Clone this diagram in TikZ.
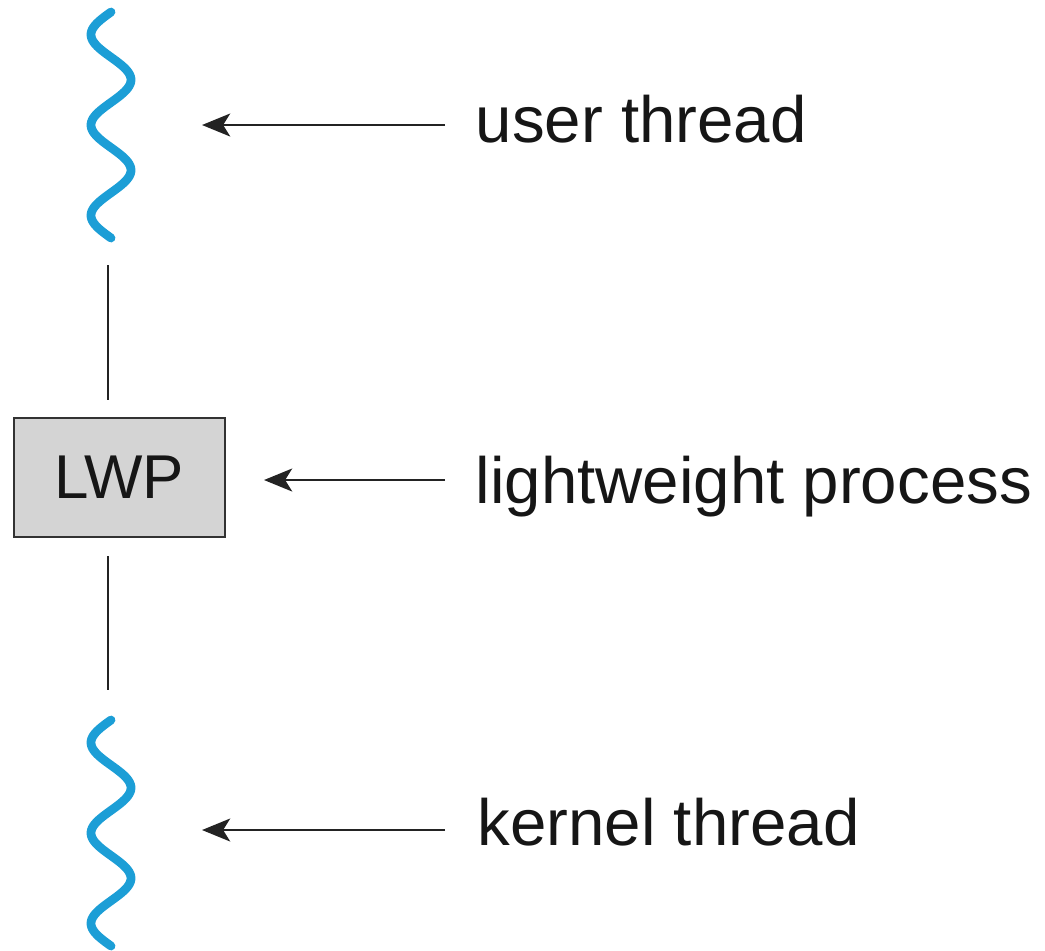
\documentclass[tikz,border=0pt]{standalone}
\usepackage{fontspec}
\setmainfont{Liberation Sans}
\usetikzlibrary{arrows.meta}
\definecolor{wavblue}{RGB}{28,158,214}
\definecolor{boxgray}{RGB}{212,212,212}
\definecolor{boxline}{RGB}{50,50,50}
\definecolor{inkgray}{RGB}{35,35,35}
\definecolor{textink}{RGB}{22,22,22}
\tikzset{
  wave/.style={draw=wavblue, line width=2.5pt, line cap=round},
  link/.style={draw=inkgray, line width=0.65pt},
  pointer/.style={draw=inkgray, line width=0.8pt, -{Stealth[length=8pt, width=6.5pt, inset=2pt]}},
  label/.style={anchor=base west, inner sep=0pt, font=\fontsize{18.6}{22}\selectfont, text=textink},
  lwpbox/.style={draw=boxline, fill=boxgray, line width=0.7pt, minimum width=2.11cm, minimum height=1.19cm, inner sep=0pt, font=\fontsize{17.6}{21}\selectfont, text=textink}
}
\begin{document}
\begin{tikzpicture}[x=0.01cm, y=-0.01cm]
\useasboundingbox (0,0) rectangle (1045,950);
% waves
\draw[wave] plot[domain=0:226, samples=120, smooth] ({111-20*sin(\x/45.2*180)}, {12+\x});
\draw[wave] plot[domain=0:226, samples=120, smooth] ({111-20*sin(\x/45.2*180)}, {720+\x});
% LWP box
\node[lwpbox] (lwp) at (119.5,477.5) {LWP};
% vertical links
\coordinate (u1) at (108,265);
\coordinate (k1) at (108,690);
\coordinate (b1) at (108,400);
\coordinate (b2) at (108,556);
\draw[link] (u1) -- (b1);
\draw[link] (b2) -- (k1);
% labels
\node[label] (ut) at (475,142) {user thread};
\node[label] (lp) at (475,503) {lightweight process};
\node[label] (kt) at (477,845) {kernel thread};
% arrows
\coordinate (a1s) at (445,125);
\coordinate (a1e) at (202,125);
\coordinate (a2s) at (445,480);
\coordinate (a2e) at (264,480);
\coordinate (a3s) at (445,830);
\coordinate (a3e) at (202,830);
\draw[pointer] (a1s) -- (a1e);
\draw[pointer] (a2s) -- (a2e);
\draw[pointer] (a3s) -- (a3e);
\end{tikzpicture}
\end{document}
